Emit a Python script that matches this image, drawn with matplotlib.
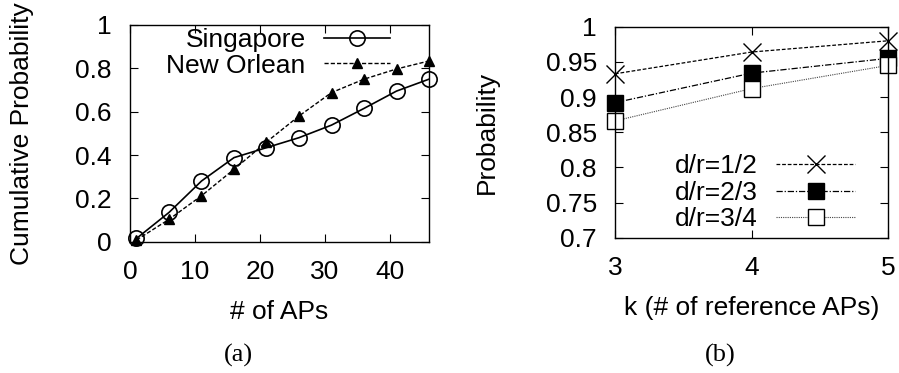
import matplotlib
matplotlib.use('Agg')
import matplotlib.pyplot as plt

# panel (a): CDF of number of APs
aps = [1, 6, 11, 16, 21, 26, 31, 36, 41, 46]
singapore = [0.015, 0.135, 0.28, 0.388, 0.434, 0.48, 0.538, 0.615, 0.695, 0.75]
new_orlean = [0.008, 0.103, 0.212, 0.334, 0.46, 0.58, 0.688, 0.75, 0.797, 0.834]

# panel (b): probability vs k
k_vals = [3, 4, 5]
dr_half = [0.933, 0.964, 0.980]
dr_two_thirds = [0.892, 0.934, 0.955]
dr_three_quarters = [0.866, 0.912, 0.945]

plt.rcParams['font.family'] = ['Liberation Sans', 'DejaVu Sans']
FS = 19


def style_axes(ax):
    ax.tick_params(direction='in', top=True, right=True, labelsize=FS,
                   length=6, width=0.8, pad=13)
    for sp in ax.spines.values():
        sp.set_linewidth(1.0)


fig = plt.figure(figsize=(8.99, 3.73), dpi=100)

ax1 = fig.add_axes([0.1446, 0.352, 0.3326, 0.581])
ax1.plot(aps, singapore, '-', color='black', lw=1.2, marker='o', ms=11,
         mfc='none', mec='black', mew=1.2, label='Singapore', clip_on=False)
ax1.plot(aps, new_orlean, '--', color='black', lw=1.0, dashes=(3, 1.5),
         marker='^', ms=7, mfc='black', mec='black', label='New Orlean',
         clip_on=False)
ax1.set_xlim(0, 46)
ax1.set_ylim(0, 1)
ax1.set_xticks([0, 10, 20, 30, 40])
ax1.set_yticks([0, 0.2, 0.4, 0.6, 0.8, 1])
ax1.set_yticklabels(['0', '0.2', '0.4', '0.6', '0.8', '1'])
style_axes(ax1)
ax1.set_xlabel('# of APs', fontsize=FS, labelpad=12)
ax1.set_ylabel('Cumulative Probability', fontsize=FS, labelpad=30)
ax1.legend(loc='upper right', bbox_to_anchor=(0.87, 0.985), markerfirst=False,
           frameon=False, fontsize=FS, handlelength=2.5, handletextpad=0.7,
           labelspacing=0.05, borderpad=0.0, borderaxespad=0.0)

ax2 = fig.add_axes([0.684, 0.3627, 0.304, 0.5657])
ax2.plot(k_vals, dr_half, color='black', lw=0.9, ls=(0, (3, 1.5)),
         marker='x', ms=13, mew=1.0, label='d/r=1/2', clip_on=False)
ax2.plot(k_vals, dr_two_thirds, color='black', lw=0.9, ls=(0, (5, 1.5, 1, 1.5)),
         marker='s', ms=12, mfc='black', mec='black', label='d/r=2/3',
         clip_on=False)
ax2.plot(k_vals, dr_three_quarters, color='#444444', lw=0.8, ls=(0, (1, 1)),
         marker='s', ms=12, mfc='white', mec='black', mew=1.0, label='d/r=3/4',
         clip_on=False)
ax2.set_xlim(3, 5)
ax2.set_ylim(0.7, 1)
ax2.set_xticks(k_vals)
ax2.set_yticks([0.7, 0.75, 0.8, 0.85, 0.9, 0.95, 1])
ax2.set_yticklabels(['0.7', '0.75', '0.8', '0.85', '0.9', '0.95', '1'])
style_axes(ax2)
ax2.set_xlabel('k (# of reference APs)', fontsize=FS, labelpad=12)
ax2.set_ylabel('Probability', fontsize=FS, labelpad=34)
ax2.legend(loc='lower right', bbox_to_anchor=(0.88, 0.03), markerfirst=False,
           frameon=False, fontsize=FS, handlelength=3.0, handletextpad=0.7,
           labelspacing=0.1, borderpad=0.0, borderaxespad=0.0)

fig.text(0.265, 0.03, '(a)', fontsize=19, family='Liberation Serif', ha='center')
fig.text(0.801, 0.03, '(b)', fontsize=19, family='Liberation Serif', ha='center')

fig.savefig('out.png', dpi=100)
